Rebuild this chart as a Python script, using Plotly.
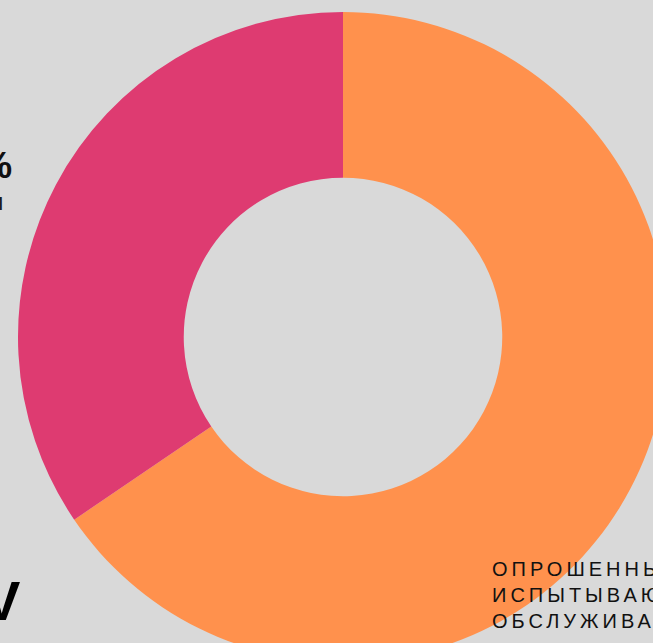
import plotly.graph_objects as go

# Data
labels = ["Опрошенные, испытывающие трудности", "Остальные"]
values = [65.5, 34.5]
colors = ["#FF914D", "#DE3B71"]

BG = "#D9D9D9"

# Figure geometry (larger than the viewport; the reference is a crop)
W, H = 690, 680
ML, MT, MR, MB = 18, 12, 22, 18
PW = W - ML - MR
PH = H - MT - MB


def px_x(px):
    return (px - ML) / PW


def px_y(py):
    return 1 - (py - MT) / PH


fig = go.Figure(
    go.Pie(
        labels=labels,
        values=values,
        hole=0.49,
        sort=False,
        direction="clockwise",
        rotation=0,
        marker=dict(colors=colors, line=dict(width=0)),
        textinfo="none",
        hoverinfo="label+percent",
        showlegend=False,
    )
)

font_main = "Liberation Sans, Arial, sans-serif"

fig.add_annotation(
    text="<b>35%</b>", xref="paper", yref="paper",
    x=px_x(14), y=px_y(165), xanchor="right", yanchor="middle",
    showarrow=False, font=dict(family=font_main, size=37, color="#111111"),
)
fig.add_annotation(
    text="опрошенными", xref="paper", yref="paper",
    x=px_x(5), y=px_y(201), xanchor="right", yanchor="middle",
    showarrow=False, font=dict(family=font_main, size=24, color="#1a1a1a"),
)
fig.add_annotation(
    text="<b>V</b>", xref="paper", yref="paper",
    x=px_x(22), y=px_y(600), xanchor="right", yanchor="middle",
    showarrow=False, font=dict(family=font_main, size=56, color="#000000"),
)
fig.add_annotation(
    text=("<span style='letter-spacing:4px'>ОПРОШЕННЫЕ<br>ИСПЫТЫВАЮТ<br>ОБСЛУЖИВАНИЕ</span>"),
    xref="paper", yref="paper",
    x=px_x(490), y=px_y(595), xanchor="left", yanchor="middle", align="left",
    showarrow=False, font=dict(family=font_main, size=20, color="#111111"),
)

fig.update_layout(
    width=W, height=H,
    margin=dict(l=ML, r=MR, t=MT, b=MB),
    paper_bgcolor=BG, plot_bgcolor=BG,
)

fig.write_html(
    "out.html",
    config={"displayModeBar": False},
    post_script="document.body.style.margin='0';document.body.style.overflow='hidden';document.body.style.background='" + BG + "';",
)
